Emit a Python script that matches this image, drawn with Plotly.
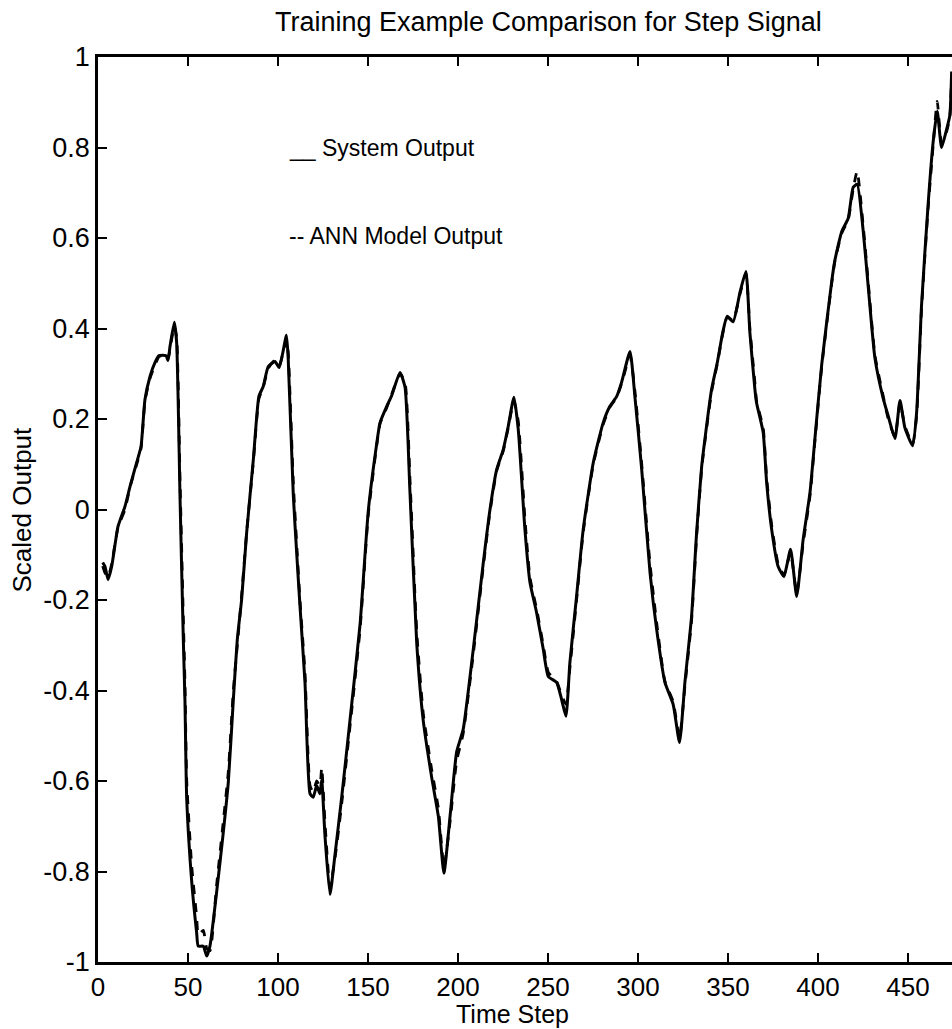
import plotly.graph_objects as go

# Time steps
time_step = [2.6, 3.9, 5.6, 7.6, 11.1, 15.0, 17.8, 21.5, 23.9, 26.1,
             28.9, 31.7, 33.9, 37.8, 38.9, 40.0, 42.4, 43.7, 45.6, 47.4,
             48.3, 49.3, 52.1, 54.8, 55.7, 58.5, 60.4, 62.2, 65.9, 69.6,
             72.4, 75.2, 77.4, 79.8, 82.6, 86.3, 89.4, 91.8, 94.6, 98.3,
             100.7, 104.7, 105.7, 108.5, 110.6, 112.2, 115.0, 117.8, 119.6, 121.5,
             123.3, 124.3, 126.1, 128.9, 131.7, 135.4, 140.0, 145.6, 150.2, 154.8,
             156.7, 160.4, 163.2, 167.8, 170.6, 173.3, 177.1, 180.7, 185.4, 189.1,
             192.2, 195.6, 199.3, 202.9, 208.5, 214.1, 217.8, 221.5, 225.2, 227.9,
             231.1, 233.5, 237.2, 240.0, 243.7, 247.4, 250.2, 254.8, 257.6, 260.0,
             262.2, 265.9, 269.6, 275.2, 280.7, 284.4, 288.2, 290.9, 295.6, 298.3,
             302.1, 306.7, 310.4, 315.0, 319.6, 323.1, 326.1, 329.8, 332.6, 335.4,
             337.2, 340.9, 344.1, 347.1, 349.6, 352.9, 356.7, 360.0, 362.2, 365.0,
             365.9, 369.6, 371.5, 374.3, 377.9, 381.1, 384.8, 388.2, 391.8, 395.6,
             398.3, 402.1, 407.6, 409.4, 413.2, 416.8, 419.6, 421.8, 425.2, 427.9,
             431.7, 436.3, 439.1, 442.8, 445.6, 448.3, 452.6, 454.8, 457.6, 461.3,
             464.1, 466.3, 468.7, 471.5, 473.3, 474.3]

system_output = [-0.117, -0.126, -0.155, -0.126, -0.038, 0.007, 0.051, 0.104, 0.139, 0.243,
                 0.294, 0.325, 0.340, 0.340, 0.329, 0.360, 0.414, 0.369, 0.022, -0.287,
                 -0.420, -0.641, -0.824, -0.935, -0.965, -0.965, -0.987, -0.965, -0.846, -0.714,
                 -0.603, -0.420, -0.287, -0.199, -0.051, 0.110, 0.250, 0.272, 0.316, 0.327,
                 0.314, 0.385, 0.331, 0.033, -0.110, -0.212, -0.382, -0.628, -0.636, -0.610,
                 -0.628, -0.597, -0.720, -0.851, -0.762, -0.636, -0.466, -0.254, -0.002, 0.144,
                 0.192, 0.228, 0.252, 0.303, 0.270, 0.042, -0.296, -0.466, -0.592, -0.678,
                 -0.804, -0.678, -0.535, -0.486, -0.309, -0.117, 0.000, 0.088, 0.133, 0.183,
                 0.248, 0.177, -0.044, -0.161, -0.228, -0.309, -0.369, -0.382, -0.420, -0.457,
                 -0.338, -0.192, -0.044, 0.104, 0.192, 0.228, 0.250, 0.281, 0.349, 0.250,
                 0.088, -0.139, -0.265, -0.382, -0.431, -0.515, -0.382, -0.236, -0.051, 0.095,
                 0.155, 0.265, 0.325, 0.391, 0.427, 0.415, 0.480, 0.526, 0.391, 0.265,
                 0.236, 0.170, 0.060, -0.044, -0.126, -0.148, -0.088, -0.192, -0.066, 0.038,
                 0.155, 0.320, 0.502, 0.550, 0.614, 0.643, 0.712, 0.719, 0.614, 0.495,
                 0.334, 0.245, 0.206, 0.157, 0.241, 0.181, 0.141, 0.212, 0.453, 0.678,
                 0.815, 0.880, 0.800, 0.840, 0.871, 0.968]

ann_output = [-0.125, -0.140, -0.150, -0.120, -0.040, 0.000, 0.050, 0.100, 0.135, 0.240,
              0.290, 0.320, 0.338, 0.342, 0.332, 0.355, 0.405, 0.380, 0.060, -0.240,
              -0.380, -0.600, -0.790, -0.900, -0.940, -0.930, -0.970, -0.975, -0.830, -0.690,
              -0.580, -0.400, -0.300, -0.190, -0.050, 0.105, 0.245, 0.270, 0.312, 0.330,
              0.318, 0.375, 0.345, 0.060, -0.090, -0.200, -0.360, -0.610, -0.625, -0.600,
              -0.610, -0.570, -0.690, -0.835, -0.770, -0.650, -0.480, -0.265, -0.010, 0.140,
              0.190, 0.225, 0.255, 0.300, 0.280, 0.070, -0.270, -0.450, -0.575, -0.660,
              -0.790, -0.690, -0.555, -0.495, -0.320, -0.125, -0.005, 0.085, 0.130, 0.180,
              0.240, 0.195, -0.020, -0.150, -0.220, -0.300, -0.360, -0.380, -0.410, -0.430,
              -0.350, -0.200, -0.050, 0.100, 0.188, 0.226, 0.248, 0.278, 0.340, 0.262,
              0.100, -0.120, -0.250, -0.380, -0.425, -0.505, -0.390, -0.245, -0.060, 0.090,
              0.150, 0.260, 0.322, 0.388, 0.425, 0.418, 0.476, 0.522, 0.400, 0.280,
              0.240, 0.180, 0.070, -0.035, -0.120, -0.145, -0.095, -0.185, -0.075, 0.030,
              0.150, 0.315, 0.498, 0.548, 0.610, 0.640, 0.708, 0.748, 0.625, 0.505,
              0.340, 0.250, 0.200, 0.160, 0.236, 0.185, 0.145, 0.205, 0.445, 0.670,
              0.808, 0.902, 0.810, 0.835, 0.868, 0.960]

x_ticks = [0, 50, 100, 150, 200, 250, 300, 350, 400, 450]
y_ticks = [-1, -0.8, -0.6, -0.4, -0.2, 0, 0.2, 0.4, 0.6, 0.8, 1]
y_tick_labels = ["-1", "-0.8", "-0.6", "-0.4", "-0.2", "0", "0.2", "0.4", "0.6", "0.8", "1"]

FONT = "Liberation Sans, Arial, sans-serif"

fig = go.Figure()
fig.add_trace(go.Scatter(x=time_step, y=ann_output, mode="lines", name="ANN Model Output",
                         line=dict(color="black", width=2.8, dash="dash",
                                   shape="spline", smoothing=0.5)))
fig.add_trace(go.Scatter(x=time_step, y=system_output, mode="lines", name="System Output",
                         line=dict(color="black", width=3, shape="spline", smoothing=0.5)))

fig.update_layout(
    width=952, height=1029,
    margin=dict(l=98, r=0, t=57, b=67, pad=0),
    paper_bgcolor="white", plot_bgcolor="white",
    showlegend=False,
    font=dict(family=FONT, color="black", size=26),
    title=dict(text="Training Example Comparison for Step Signal",
               x=0.576, xanchor="center", y=0.979, yanchor="middle",
               font=dict(family=FONT, size=27, color="black")),
)
fig.update_xaxes(range=[0, 474.5], tickvals=x_ticks, ticks="inside", ticklen=9, tickwidth=2,
                 tickcolor="black", showline=True, linewidth=2.5, linecolor="black",
                 mirror="ticks", showgrid=False, zeroline=False,
                 tickfont=dict(family=FONT, size=26, color="black"))
fig.update_yaxes(range=[-1, 1], tickvals=y_ticks, ticktext=y_tick_labels, ticks="inside",
                 ticklen=9, tickwidth=2, tickcolor="black", showline=True, linewidth=2.5,
                 linecolor="black", mirror=False, showgrid=False, zeroline=False,
                 tickfont=dict(family=FONT, size=27, color="black"))

fig.add_annotation(text="Time Step", xref="paper", yref="paper", x=0.485, y=-0.0575,
                   xanchor="center", yanchor="middle", showarrow=False,
                   font=dict(family=FONT, size=25, color="black"))
fig.add_annotation(text="Scaled Output", xref="paper", yref="paper", x=-0.089, y=0.50,
                   xanchor="center", yanchor="middle", showarrow=False, textangle=-90,
                   font=dict(family=FONT, size=26, color="black"))
fig.add_annotation(text="__ System Output", xref="paper", yref="paper", x=0.221, y=0.900,
                   xanchor="left", yanchor="middle", showarrow=False,
                   font=dict(family=FONT, size=23, color="black"))
fig.add_annotation(text="-- ANN Model Output", xref="paper", yref="paper", x=0.221, y=0.802,
                   xanchor="left", yanchor="middle", showarrow=False,
                   font=dict(family=FONT, size=23, color="black"))

fig.write_html("out.html")
